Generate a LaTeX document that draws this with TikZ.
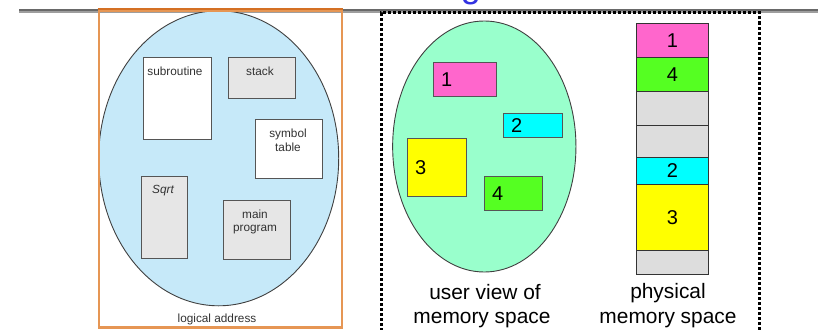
\documentclass[tikz,border=0pt]{standalone}
\usepackage{fontspec}
\setmainfont{Liberation Sans}
\usetikzlibrary{shapes.geometric}
\definecolor{hldark}{RGB}{105,105,105}
\definecolor{hllight}{RGB}{158,158,158}
\definecolor{orangeline}{RGB}{230,150,84}
\definecolor{orangetop}{RGB}{212,112,36}
\definecolor{lblue}{RGB}{198,233,249}
\definecolor{lgreen}{RGB}{153,255,204}
\definecolor{magent}{RGB}{255,102,204}
\definecolor{cyanbox}{RGB}{0,255,255}
\definecolor{yellowbox}{RGB}{255,255,0}
\definecolor{greenbox}{RGB}{85,255,34}
\definecolor{segray}{RGB}{221,221,221}
\definecolor{boxgray}{RGB}{230,230,230}
\definecolor{edgegray}{RGB}{85,85,85}
\definecolor{txtgray}{RGB}{50,50,50}
\definecolor{titleblue}{RGB}{50,50,225}
\begin{document}
\begin{tikzpicture}[x=1pt,y=-1pt,
  blk/.style={draw=edgegray, line width=1pt, inner sep=0pt, anchor=north west},
  seg/.style={draw=black!80, line width=1pt, inner sep=0pt, anchor=north west, minimum width=72},
  small/.style={font=\fontsize{11.8}{14}\selectfont, text=txtgray, inner sep=0pt, anchor=base},
  big/.style={font=\fontsize{20.9}{24}\selectfont, inner sep=0pt, anchor=base},
  dig/.style={font=\fontsize{20}{24}\selectfont, inner sep=0pt},
  oval/.style={ellipse, draw=black!75, line width=0.9pt, inner sep=0pt}
]
\useasboundingbox (0,0) rectangle (818,329);
\clip (0,0) rectangle (818,329);

% title fragment
\node[font=\fontsize{36}{40}\selectfont, text=titleblue, inner sep=0pt, anchor=base] (titlefrag) at (471,-2.5) {g};

% horizontal rule (shaded)
\coordinate (hl0) at (19,10);
\coordinate (hl1) at (818,10);
\coordinate (hm0) at (19,12.2);
\coordinate (hm1) at (818,12.2);
\draw[hllight, line width=2.4pt] (hm0) -- (hm1);
\draw[hldark, line width=2pt] (hl0) -- (hl1);

% ---------- logical view ----------
\node[oval, fill=lblue, minimum width=240, minimum height=295] (logell) at (218.7,158.3) {};
\node[draw=orangeline, line width=2.6pt, inner sep=0pt, anchor=north west,
      minimum width=243, minimum height=316.5] (logbox) at (97.5,9.5) {};
\draw[orangetop, line width=2pt] (logbox.north west) -- (logbox.north east);

\node[blk, fill=white, minimum width=68, minimum height=82] (sub) at (143,57) {};
\node[blk, fill=boxgray, minimum width=67, minimum height=41] (stk) at (228,57) {};
\node[blk, fill=white, minimum width=67, minimum height=59] (sym) at (255,119) {};
\node[blk, fill=boxgray, minimum width=46, minimum height=82] (sqrt) at (141,176) {};
\node[blk, fill=boxgray, minimum width=67, minimum height=59] (mainp) at (223,200) {};

\node[small] (subtxt) at (175,75) {subroutine};
\node[small] (stktxt) at (260,75) {stack};
\node[small] (symtxt1) at (288,137) {symbol};
\node[small] (symtxt2) at (288,151) {table};
\node[small, font=\fontsize{11.8}{14}\selectfont\itshape] (sqrttxt) at (163,193) {Sqrt};
\node[small] (maintxt1) at (255,218) {main};
\node[small] (maintxt2) at (255,231.5) {program};
\node[small] (logtxt) at (217,322) {logical address};

% ---------- user view / physical ----------
\node[draw=black, line width=3pt, dash pattern=on 3pt off 2pt, inner sep=0pt,
      anchor=north west, minimum width=378.5, minimum height=318] (physbox) at (379.5,11.5) {};

\node[oval, fill=lgreen, minimum width=183.3, minimum height=251] (userell) at (484.3,146.5) {};
\node[blk, fill=magent, minimum width=63, minimum height=34] (u1) at (433,62) {};
\node[blk, fill=cyanbox, minimum width=59, minimum height=24] (u2) at (503,113) {};
\node[blk, fill=yellowbox, minimum width=59, minimum height=58] (u3) at (407,138) {};
\node[blk, fill=greenbox, minimum width=58, minimum height=34] (u4) at (484,176) {};
\node[dig, anchor=west] (u1t) at ([xshift=8pt]u1.west) {1};
\node[dig, anchor=west] (u2t) at ([xshift=8pt]u2.west) {2};
\node[dig, anchor=west] (u3t) at ([xshift=8pt]u3.west) {3};
\node[dig, anchor=west] (u4t) at ([xshift=8pt]u4.west) {4};

\node[seg, fill=magent, minimum height=34] (p1) at (636,23) {};
\node[seg, fill=greenbox, minimum height=34] (p4) at (636,57) {};
\node[seg, fill=segray, minimum height=34] (pe1) at (636,91) {};
\node[seg, fill=segray, minimum height=32] (pe2) at (636,125) {};
\node[seg, fill=cyanbox, minimum height=27] (p2) at (636,157) {};
\node[seg, fill=yellowbox, minimum height=66] (p3) at (636,184) {};
\node[seg, fill=segray, minimum height=24] (pe3) at (636,250) {};
\node[dig] (p1t) at (p1.center) {1};
\node[dig] (p4t) at (p4.center) {4};
\node[dig] (p2t) at (p2.center) {2};
\node[dig] (p3t) at (p3.center) {3};

\node[big] (uv1) at (485,299) {user view of};
\node[big] (uv2) at (482,323) {memory space};
\node[big] (ph1) at (668,298) {physical};
\node[big] (ph2) at (668,323) {memory space};
\end{tikzpicture}
\end{document}
